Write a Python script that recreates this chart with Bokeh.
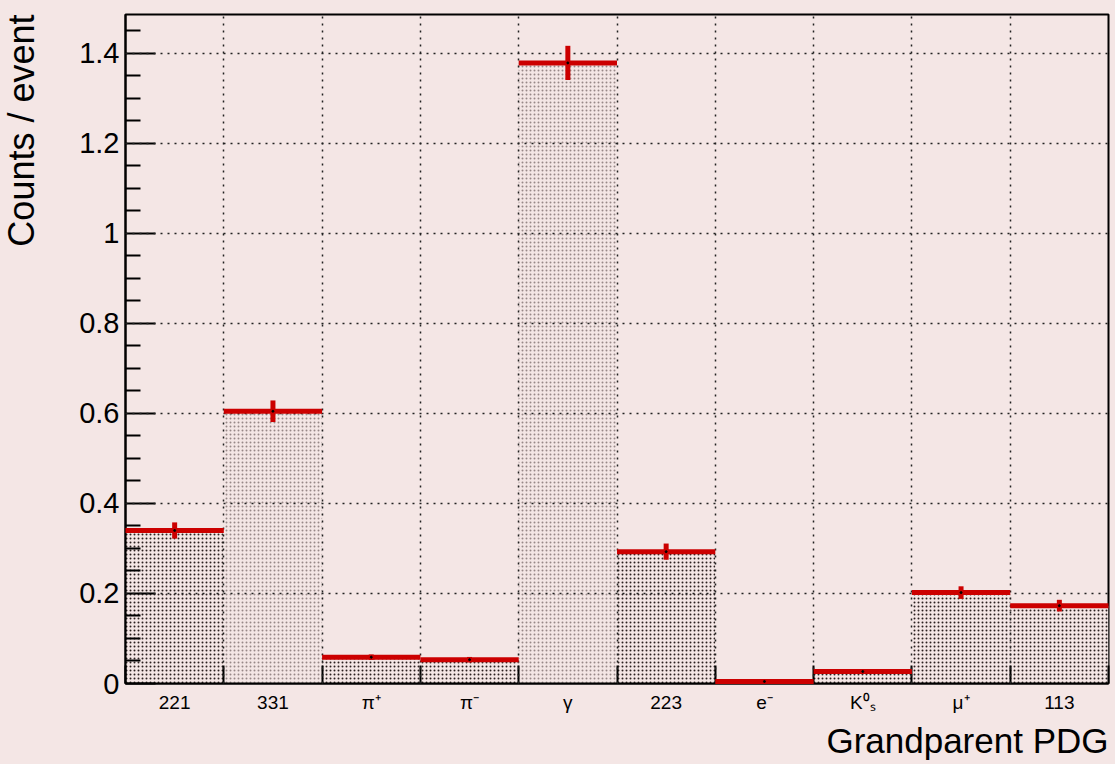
import numpy as np
from bokeh.plotting import figure
from bokeh.models import Range1d, FixedTicker, Title
from bokeh.embed import file_html
from bokeh.resources import INLINE

# ---- data ----
categories = ["221", "331", "π⁺", "π⁻", "γ", "223", "e⁻", "K⁰ₛ", "μ⁺", "113"]
counts = [0.340, 0.605, 0.0585, 0.053, 1.379, 0.293, 0.0045, 0.0267, 0.202, 0.173]
errors = [0.018, 0.024, 0.006, 0.006, 0.038, 0.018, 0.002, 0.004, 0.014, 0.013]
light_fill = [False, True, False, False, True, False, False, False, False, False]
y_major = [0, 0.2, 0.4, 0.6, 0.8, 1.0, 1.2, 1.4]

BG = "#f4e6e5"
RED = "#cc0000"
FONT = "Liberation Sans"

n = len(categories)
edges = np.arange(n + 1, dtype=float)
centers = edges[:-1] + 0.5
counts = np.array(counts)
errors = np.array(errors)
ymax = 1.4866

p = figure(width=1113, height=762, output_backend="svg", toolbar_location=None,
           x_range=Range1d(0, n), y_range=Range1d(0, ymax),
           min_border_left=125, min_border_right=5, min_border_top=14, min_border_bottom=79,
           background_fill_color=BG, border_fill_color=BG)
p.outline_line_color = "black"
p.outline_line_width = 2

# bars
for light in (False, True):
    idx = [i for i in range(n) if light_fill[i] == light]
    p.quad(left=edges[idx], right=edges[idx] + 1, bottom=0, top=counts[idx],
           fill_color=BG, line_color=None,
           hatch_pattern="dot", hatch_scale=4,
           hatch_weight=1.4 if light else 2.2,
           hatch_color="#807070" if light else "#150a0a",
           hatch_alpha=0.8 if light else 0.9)

# grid above bars
p.xgrid.ticker = FixedTicker(ticks=list(edges[1:-1]))
p.ygrid.ticker = FixedTicker(ticks=y_major[1:])
for g in (p.xgrid, p.ygrid):
    g.grid_line_color = "#222222"
    g.grid_line_dash = "2 5"
    g.grid_line_width = 1.5
    g.level = "guide"

# red histogram line + error bars
r1 = p.segment(x0=edges[:-1], x1=edges[1:], y0=counts, y1=counts, line_color=RED, line_width=5)
r2 = p.segment(x0=centers, x1=centers, y0=counts - errors, y1=counts + errors, line_color=RED, line_width=5)
r3 = p.scatter(x=centers, y=counts, size=2, color="black")
for r in (r1, r2, r3):
    r.level = "annotation"

# axes
xa = p.xaxis[0]
xa.ticker = FixedTicker(ticks=list(centers), minor_ticks=list(edges))
xa.major_label_overrides = {float(c): lab for c, lab in zip(centers, categories)}
xa.major_tick_in = 0
xa.major_tick_out = 0
xa.minor_tick_in = 18
xa.minor_tick_out = 0
xa.minor_tick_line_width = 2
xa.axis_line_width = 2
xa.major_label_text_font = FONT
xa.major_label_text_font_size = "19px"
xa.major_label_text_color = "black"
xa.major_label_standoff = 8

ya = p.yaxis[0]
minor = [round(v, 2) for v in np.arange(0.05, 1.46, 0.05) if round(v * 20) % 4 != 0]
ya.ticker = FixedTicker(ticks=y_major, minor_ticks=minor)
ya.major_label_overrides = {0: "0", 1.0: "1"}
ya.major_tick_in = 30
ya.major_tick_out = 0
ya.minor_tick_in = 15
ya.minor_tick_out = 0
ya.major_tick_line_width = 2
ya.minor_tick_line_width = 2
ya.axis_line_width = 2
ya.major_label_text_font = FONT
ya.major_label_text_font_size = "29px"
ya.major_label_text_color = "black"
ya.major_label_standoff = 6
# spacer between tick labels and the title
ya.axis_label = " "
ya.axis_label_text_font_size = "1px"
ya.axis_label_standoff = 29

# axis titles
p.add_layout(Title(text="Counts / event", align="right", vertical_align="top",
                   text_font=FONT, text_font_size="36px",
                   text_font_style="normal", text_color="black", standoff=0, offset=0), "left")
p.add_layout(Title(text="Grandparent PDG", align="right", text_font=FONT, text_font_size="35px",
                   text_font_style="normal", text_color="black", standoff=6), "below")

try:
    from bokeh.models import GlobalInlineStyleSheet
    p.stylesheets = [GlobalInlineStyleSheet(css="body { background-color: %s; }" % BG)]
except Exception:
    pass

open("out.html", "w").write(file_html(p, INLINE))
